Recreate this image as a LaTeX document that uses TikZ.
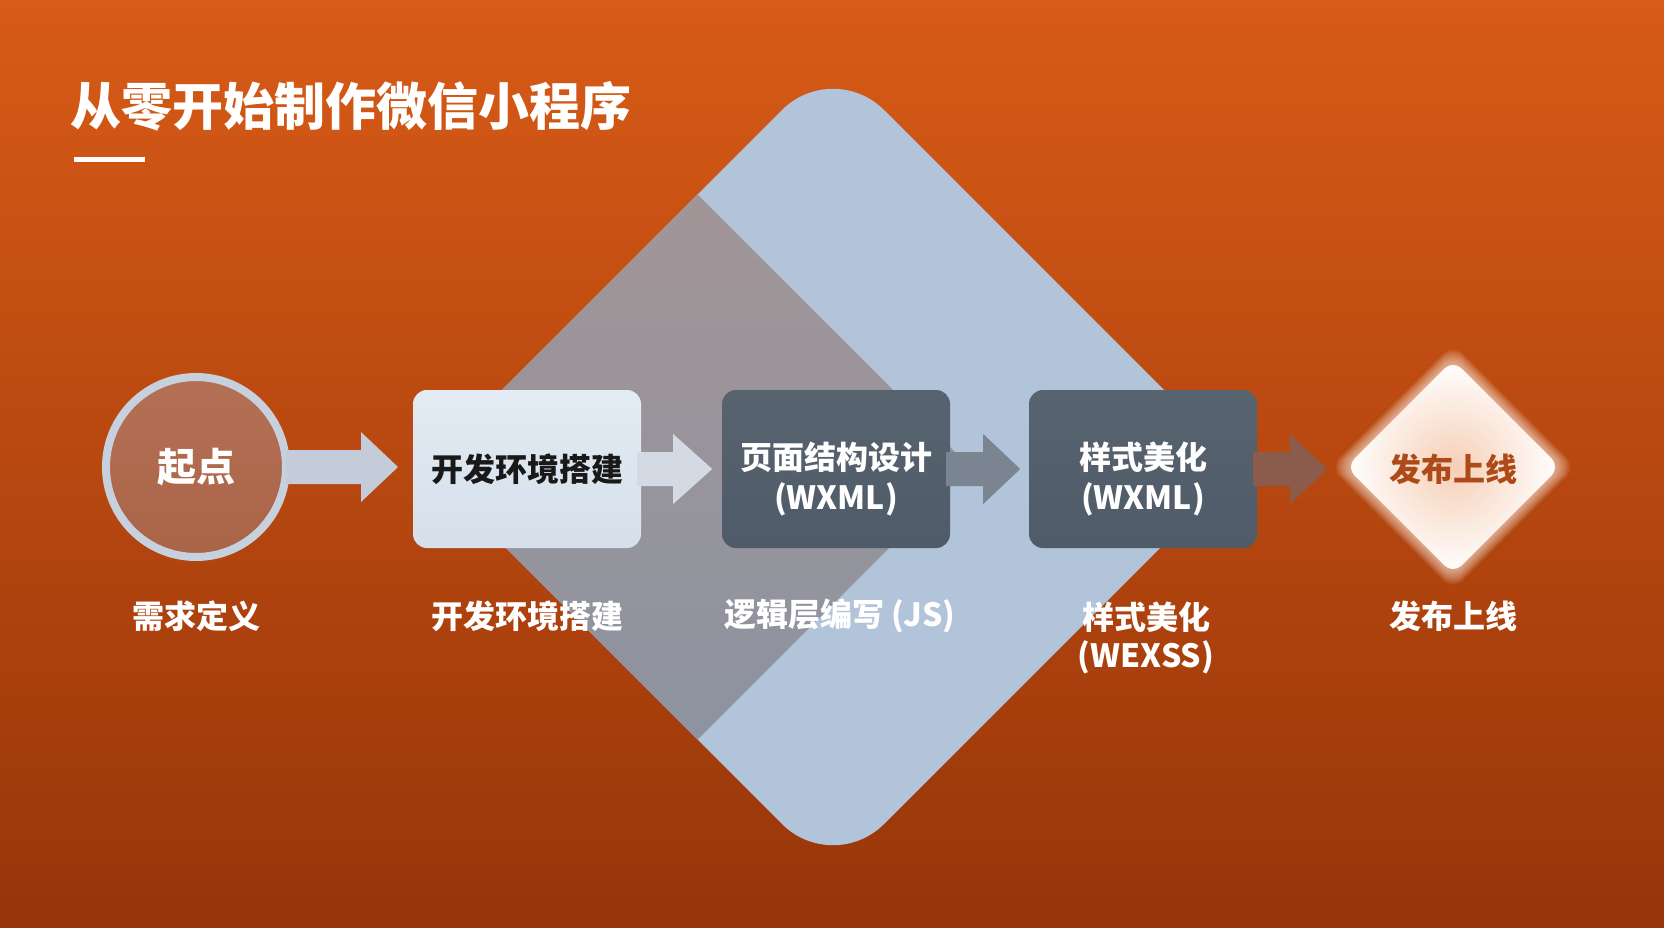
\documentclass[tikz,border=0pt]{standalone}
\usepackage{fontspec}
\setmainfont{Noto Sans CJK SC}
\usetikzlibrary{calc}
\definecolor{bgtop}{HTML}{D85B17}
\definecolor{bgbot}{HTML}{973509}
\definecolor{bigdia}{HTML}{B1C4D9}
\definecolor{greytop}{HTML}{A29597}
\definecolor{greybot}{HTML}{8D93A0}
\definecolor{ring}{HTML}{C6D1DD}
\definecolor{circtop}{HTML}{B47055}
\definecolor{circbot}{HTML}{AA6448}
\definecolor{lighttop}{HTML}{E3EBF3}
\definecolor{lightbot}{HTML}{D5E0EB}
\definecolor{slatetop}{HTML}{57636F}
\definecolor{slatebot}{HTML}{4F5B68}
\definecolor{arrA}{HTML}{C3CCD8}
\definecolor{arrB}{HTML}{D3DAE3}
\definecolor{arrC}{HTML}{7B8591}
\definecolor{arrD}{HTML}{8B5B4C}
\definecolor{diatext}{HTML}{AD4A18}
\definecolor{peach}{HTML}{F6CFB6}
\definecolor{glowc}{HTML}{FFF6EE}
\newcommand\fatarr[4]{%
  \fill[#1] ($(#2.east)+(-4,-17)$) -- ++({#3+4},0) -- ++(0,-18) -- ++(#4,35)
    -- ++(-#4,35) -- ++(0,-18) -- ++({-#3-4},0) -- cycle;}
\begin{document}
\begin{tikzpicture}[x=1pt,y=-1pt,
  titlestyle/.style={text=white,font=\fontsize{51}{60}\selectfont\bfseries,inner sep=0},
  lbl/.style={text=white,font=\fontsize{32}{38}\selectfont\bfseries,align=center,inner sep=0},
  boxbase/.style={rectangle,rounded corners=14,minimum width=228,minimum height=158,inner sep=0,
    font=\fontsize{32}{40}\selectfont\bfseries,align=center},
  lightbox/.style={boxbase,top color=lighttop,bottom color=lightbot,text=black!90},
  darkbox/.style={boxbase,top color=slatetop,bottom color=slatebot,text=white},
  boxtext/.style={text=white,font=\fontsize{32}{40}\selectfont\bfseries,align=center,inner sep=0},
]
\useasboundingbox (0,0) rectangle (1664,928);
\shade[top color=bgtop,bottom color=bgbot] (0,0) rectangle (1664,928);

% title
\node[titlestyle,anchor=west] (title) at (70,106) {从零开始制作微信小程序};
\fill[white] (74,157) rectangle (145,162);

% big diamond
\fill[bigdia,rounded corners=72] (629,263) -- (833,59) -- (1241,467) -- (833,875) -- (425,467) -- cycle;
\begin{scope}
  \clip[rounded corners=72] (629,263) -- (833,59) -- (1241,467) -- (833,875) -- (425,467) -- cycle;
  \shade[top color=greytop,bottom color=greybot] (697,194) -- (970,467) -- (697,740) -- (424,467) -- cycle;
\end{scope}

% start circle
\node[circle,minimum size=180,inner sep=0,draw=ring,line width=8,top color=circtop,bottom color=circbot,
  text=white,font=\fontsize{39}{46}\selectfont\bfseries] (c1) at (196,467) {起点};

% boxes
\node[lightbox] (b2) at (527,469) {开发环境搭建};
\node[darkbox] (b3) at (836,469) {};
\node[boxtext] (t3) at ($(b3.center)+(0,10)$) {页面结构设计\\(WXML)};
\node[darkbox] (b4) at (1143,469) {};
\node[boxtext] (t4) at ($(b4.center)+(0,10)$) {样式美化\\(WXML)};

% final diamond with glow
\foreach \i in {0,...,13}{
  \pgfmathsetmacro\h{105+\i*1.4}
  \fill[glowc,opacity=0.07,rounded corners=14] ({1453-\h/2},{467-\h/2}) -- (1453,{467-\h}) -- ({1453+\h},467)
    -- (1453,{467+\h}) -- ({1453-\h},467) -- cycle;
}
\shade[inner color=peach,outer color=white,rounded corners=12] (1399.5,413.5) -- (1453,360) -- (1560,467)
  -- (1453,574) -- (1346,467) -- cycle;
\node[text=diatext,font=\fontsize{32}{38}\selectfont\bfseries,inner sep=0,minimum width=214,minimum height=214] (d5) at (1453,469) {发布上线};

% arrows
\fatarr{arrA}{c1}{71}{37}
\fatarr{arrB}{b2}{32}{39}
\fatarr{arrC}{b3}{33}{37}
\fatarr{arrD}{b4}{33}{37}

% labels
\node[lbl] (l1) at (196,616) {需求定义};
\node[lbl] (l2) at (527,616) {开发环境搭建};
\node[lbl] (l3) at (840,616) {逻辑层编写 (JS)};
\node[lbl,anchor=north] (l4) at (1146,602) {样式美化\\(WEXSS)};
\node[lbl] (l5) at (1453,616) {发布上线};
\end{tikzpicture}
\end{document}
